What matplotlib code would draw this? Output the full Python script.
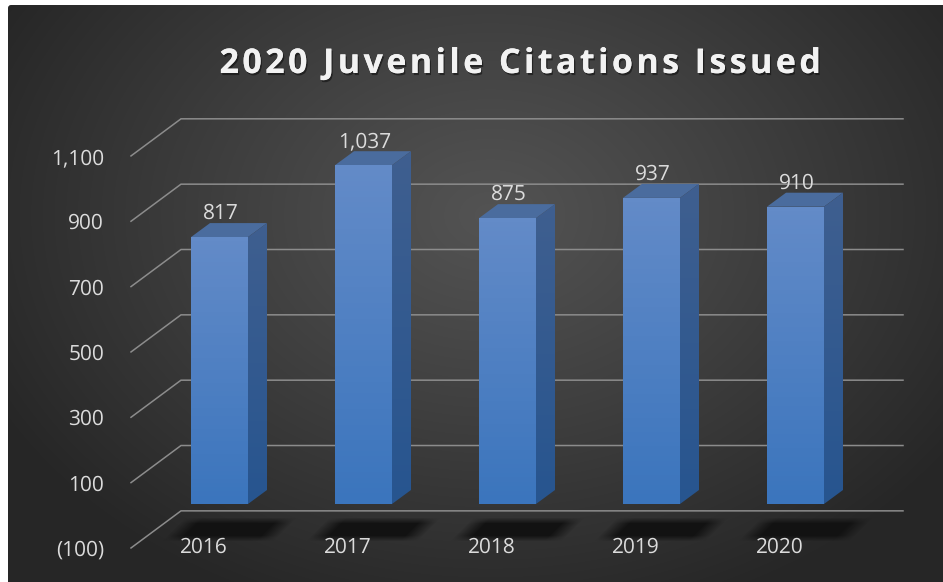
import numpy as np
import matplotlib
matplotlib.use('Agg')
import matplotlib.pyplot as plt
from matplotlib.patches import Polygon, FancyBboxPatch
import matplotlib.patheffects as pe

years = ['2016', '2017', '2018', '2019', '2020']
citations = [817, 1037, 875, 937, 910]
grid_values = [-100, 100, 300, 500, 700, 900, 1100]
grid_labels = ['(100)', '100', '300', '500', '700', '900', '1,100']

W, H = 943, 582
plt.rcParams['font.family'] = ['Open Sans', 'DejaVu Sans']
plt.rcParams['text.hinting'] = 'none'

fig = plt.figure(figsize=(W / 100, H / 100), dpi=100, facecolor='white')

# scale: pixels per category / per citation, same as the picture
PX_CAT = 144.0
PX_VAL = 0.3267
X0 = 219.5   # px of first bar centre
Y0 = 504.0   # px of bar base


def px_x(p):
    return (p - X0) / PX_CAT


def px_y(p):
    return (Y0 - p) / PX_VAL


# background panel with radial gradient
bg = fig.add_axes([0, 0, 1, 1])
yy, xx = np.mgrid[0:H, 0:W]
r = np.sqrt(((xx - 490) / 560.0) ** 2 + ((yy - 215) / 420.0) ** 2)
r = np.clip(r, 0, 1)
shade = 0.325 - (0.325 - 0.15) * r ** 1.1
bg.set_xlim(0, W)
bg.set_ylim(H, 0)
im = bg.imshow(np.dstack([shade] * 3), extent=(0, W, H, 0), aspect='auto', zorder=1)
panel = FancyBboxPatch((8, 5), W, H, boxstyle='round,pad=0,rounding_size=3',
                       transform=bg.transData, facecolor='none', edgecolor='none')
bg.add_patch(panel)
im.set_clip_path(panel)
bg.axis('off')

ax = fig.add_axes([0, 0, 1, 1])
ax.patch.set_alpha(0)
ax.axis('off')
xlim = (px_x(0), px_x(W))
ylim = (px_y(H), px_y(0))

# gridlines, back wall plus the slanted floor part
FRONT_SHIFT = -34.6
BACK_SHIFT = 79.0
for val, lab in zip(grid_values, grid_labels):
    ax.plot([px_x(131), px_x(181), px_x(903)],
            [val + FRONT_SHIFT, val + BACK_SHIFT, val + BACK_SHIFT],
            color='#8c8c8c', lw=1.1, zorder=2, solid_joinstyle='miter')
    ax.text(px_x(104), val + FRONT_SHIFT - 8 / PX_VAL, lab, color='#dcdcdc', fontsize=15,
            ha='right', va='baseline', zorder=6)


def gradient(top, bottom, n=64):
    top = np.array(matplotlib.colors.to_rgb(top))
    bottom = np.array(matplotlib.colors.to_rgb(bottom))
    t = np.linspace(0, 1, n)[:, None]
    return (top * (1 - t) + bottom * t)[:, None, :]


BAR_W = 57 / PX_CAT
DX = 19 / PX_CAT
DY = 14 / PX_VAL

for i, (yr, v) in enumerate(zip(years, citations)):
    l, r_ = i - BAR_W / 2, i + BAR_W / 2

    # soft floor shadow, built in bar-relative pixels
    sy, sx = np.mgrid[515:545, -70:90]
    skew = sx + (sy - 529) * 1.0
    a = np.clip((56 - np.abs(skew - 9)) / 18, 0, 1) * np.clip((12 - np.abs(sy - 529)) / 6, 0, 1)
    sh = np.zeros(a.shape + (4,))
    sh[..., :3] = 0.07
    sh[..., 3] = a * 0.95
    ax.imshow(sh, extent=(i - 70 / PX_CAT, i + 90 / PX_CAT, px_y(545), px_y(515)),
              aspect='auto', zorder=2.5, interpolation='bilinear')

    front = Polygon([(l, 0), (r_, 0), (r_, v), (l, v)], closed=True, fc='none', ec='none',
                    zorder=4)
    side = Polygon([(r_, 0), (r_ + DX, DY), (r_ + DX, v + DY), (r_, v)], closed=True,
                   fc='none', ec='none', zorder=4)
    top = Polygon([(l, v), (r_, v), (r_ + DX, v + DY), (l + DX, v + DY)], closed=True,
                  fc='#4a6c9e', ec='none', zorder=4)
    ax.add_patch(front)
    ax.add_patch(side)
    ax.add_patch(top)
    im_f = ax.imshow(gradient('#638bc8', '#3b75bd'), extent=(l, r_, 0, v), aspect='auto', zorder=4)
    im_f.set_clip_path(front)
    im_s = ax.imshow(gradient('#3f5f8f', '#27558f'), extent=(r_, r_ + DX, 0, v + DY),
                     aspect='auto', zorder=4)
    im_s.set_clip_path(side)

    ax.text(i + 1.5 / PX_CAT, v + 18 / PX_VAL, f'{v:,}', color='#dcdcdc', fontsize=15,
            ha='center', va='baseline', zorder=6)
    ax.text(i - 15.5 / PX_CAT, px_y(553), yr, color='#dcdcdc', fontsize=15,
            ha='center', va='baseline', zorder=6)

ax.set_xlim(xlim)
ax.set_ylim(ylim)

# hair spaces between letters, the picture's title is letter-spaced
title = '\u200a'.join('2020 Juvenile Citations Issued')
bg.text(520, 73, title, color='#f2f2f2', fontsize=24.5, fontweight='bold', ha='center', va='baseline',
        zorder=5, path_effects=[pe.withSimplePatchShadow(offset=(1, -1.5), shadow_rgbFace='black', alpha=0.45),
                                pe.Normal()])

fig.savefig('out.png', dpi=100, facecolor='white')
